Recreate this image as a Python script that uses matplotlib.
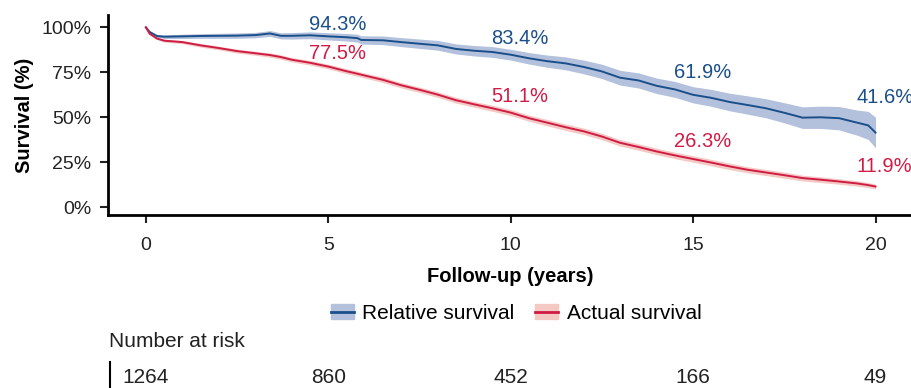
import matplotlib.pyplot as plt
import numpy as np
from matplotlib.patches import Patch
from matplotlib.lines import Line2D

plt.rcParams['font.family'] = ['Liberation Sans', 'DejaVu Sans']

years = [0, 0.1, 0.3, 0.5, 1, 1.5, 2, 2.5, 3, 3.4, 3.7, 4, 4.5, 5, 5.5, 5.8, 5.9,
         6.5, 7, 7.5, 8, 8.5, 9, 9.5, 10, 10.5, 11, 11.5, 12, 12.5, 13, 13.5, 14,
         14.5, 15, 15.5, 16, 16.5, 17, 17.5, 18, 18.5, 19, 19.5, 19.8, 20]
relative = [100, 97.5, 95.2, 94.8, 95.0, 95.2, 95.3, 95.4, 95.7, 96.6, 95.3, 95.3,
            95.6, 95.0, 94.5, 94.0, 93.0, 92.8, 91.8, 90.9, 90.0, 88.0, 87.0, 86.3,
            84.8, 82.8, 81.2, 80.0, 78.0, 75.5, 72.0, 70.5, 67.5, 65.5, 62.5, 60.8,
            58.5, 56.8, 55.0, 52.5, 49.8, 50.0, 49.5, 47.0, 45.5, 41.5]
relative_ci = [0, 0.5, 0.8, 1.0, 1.2, 1.3, 1.4, 1.5, 1.5, 1.6, 1.7, 1.8, 1.9, 2.0,
               2.1, 2.2, 2.3, 2.4, 2.5, 2.6, 2.7, 2.8, 2.9, 3.0, 3.0, 3.2, 3.4, 3.6,
               3.8, 4.0, 4.1, 4.2, 4.3, 4.4, 4.5, 4.7, 4.9, 5.1, 5.3, 5.6, 6.0, 6.2,
               6.5, 7.0, 7.8, 8.5]
actual = [100, 96.5, 93.8, 92.6, 91.8, 90.0, 88.5, 86.8, 85.6, 84.6, 83.5, 82.0,
          80.3, 78.2, 75.6, 74.2, 73.7, 70.8, 67.8, 65.3, 62.6, 59.5, 57.2, 55.0,
          52.6, 49.5, 47.0, 44.5, 42.2, 39.3, 35.8, 33.5, 31.0, 28.8, 26.8, 24.8,
          22.7, 20.8, 19.3, 17.8, 16.2, 15.3, 14.3, 13.2, 12.3, 11.5]
actual_ci = [0, 0.4, 0.6, 0.8, 0.9, 1.0, 1.0, 1.1, 1.1, 1.2, 1.2, 1.2, 1.3, 1.3,
             1.4, 1.4, 1.4, 1.5, 1.5, 1.5, 1.6, 1.6, 1.6, 1.7, 1.7, 1.7, 1.8, 1.8,
             1.8, 1.8, 1.8, 1.8, 1.8, 1.8, 1.8, 1.8, 1.8, 1.7, 1.7, 1.7, 1.6, 1.6,
             1.5, 1.5, 1.4, 1.4]

label_years = [5, 10, 15, 20]
relative_labels = ["94.3%", "83.4%", "61.9%", "41.6%"]
actual_labels = ["77.5%", "51.1%", "26.3%", "11.9%"]

risk_years = [0, 5, 10, 15, 20]
at_risk = [1264, 860, 452, 166, 49]

blue, blue_fill = "#1b4f8a", "#b3c1dd"
red, red_fill = "#d01c44", "#f4c8c3"

fig = plt.figure(figsize=(9.12, 3.88), dpi=100)
ax = fig.add_axes([0.1184, 0.446, 0.8816, 0.515])

t = np.array(years)
rel, rel_ci = np.array(relative), np.array(relative_ci)
act, act_ci = np.array(actual), np.array(actual_ci)

ax.fill_between(t, rel - rel_ci, rel + rel_ci, color=blue_fill, lw=0)
ax.fill_between(t, act - act_ci, act + act_ci, color=red_fill, lw=0)
ax.plot(t, rel, color=blue, lw=1.4)
ax.plot(t, act, color=red, lw=1.4)

# percentage labels above the curves
rel_label_y = [101.5, 93.9, 74.8, 61.1]
act_label_y = [85.7, 61.4, 36.4, 22.6]
for yr, txt, ypos in zip(label_years, relative_labels, rel_label_y):
    ax.text(yr + 0.25, ypos, txt, color=blue, fontsize=14.5, ha="center", va="center")
for yr, txt, ypos in zip(label_years, actual_labels, act_label_y):
    ax.text(yr + 0.25, ypos, txt, color=red, fontsize=14.5, ha="center", va="center")

ax.set_xlim(-1.04, 21)
ax.set_ylim(-4.3, 106.8)
ax.set_xticks([0, 5, 10, 15, 20])
ax.set_yticks([0, 25, 50, 75, 100])
ax.set_yticklabels(["0%", "25%", "50%", "75%", "100%"])
ax.tick_params(labelsize=14, colors="#222222", length=6, width=1.5, pad=6)
ax.tick_params(axis="x", pad=10)
for side in ["top", "right"]:
    ax.spines[side].set_visible(False)
for side in ["left", "bottom"]:
    ax.spines[side].set_linewidth(2)
ax.set_xlabel("Follow-up (years)", fontsize=14.5, fontweight="bold", labelpad=9)
ax.set_ylabel("Survival (%)", fontsize=14.5, fontweight="bold", labelpad=5)

# legend
handles = [(Patch(color=blue_fill), Line2D([], [], color=blue, lw=2)),
           (Patch(color=red_fill), Line2D([], [], color=red, lw=2))]
fig.legend(handles, ["Relative survival", "Actual survival"], loc="center",
           bbox_to_anchor=(0.566, 0.192), ncol=2, frameon=False,
           prop={"size": 15}, handlelength=1.1, handletextpad=0.4,
           columnspacing=1.0)

# number at risk table
fig.text(0.12, 0.121, "Number at risk", fontsize=15, va="center", color="#222222")
fig.add_artist(Line2D([0.1206, 0.1206], [0.0, 0.067], color="black", lw=1.5))
for yr, n in zip(risk_years, at_risk):
    xf = ax.transData.transform((yr, 0))[0] / fig.bbox.width
    fig.text(xf, 0.028, str(n), fontsize=15, ha="center", va="center",
             color="#222222")

fig.savefig("out.png", dpi=100)
